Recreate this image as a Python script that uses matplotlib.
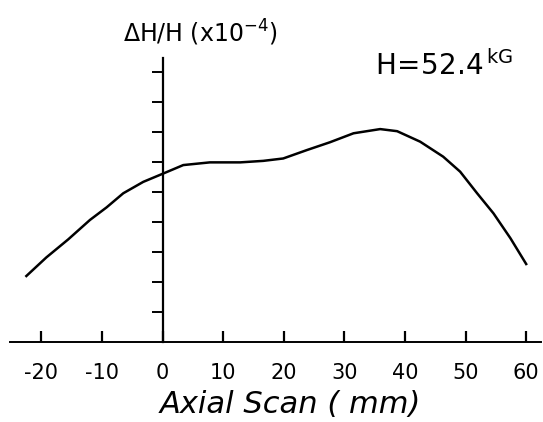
import matplotlib
matplotlib.use("Agg")
import matplotlib.pyplot as plt

# values
scan_mm = [-22.5, -19.2, -15.6, -12.0, -9.25, -6.5, -3.2, 0, 3.4, 7.8, 12.8, 16.6, 19.9,
           23.8, 27.6, 31.5, 35.9, 38.7, 42.5, 46.3, 49.1, 51.9, 54.6, 57.4, 60.0]
dh_h = [2.21, 2.83, 3.43, 4.08, 4.5, 4.97, 5.35, 5.62, 5.91, 6.0, 6.0, 6.05, 6.13,
        6.41, 6.67, 6.97, 7.11, 7.04, 6.69, 6.19, 5.69, 4.97, 4.3, 3.47, 2.61]
xticks = [-20, -10, 0, 10, 20, 30, 40, 50, 60]
yticks = [1, 2, 3, 4, 5, 6, 7, 8, 9]

fig = plt.figure(figsize=(5.43, 4.22), dpi=100)
ax = fig.add_axes([0.0184, 0.1889, 0.9774, 0.6729])

ax.plot(scan_mm, dh_h, color='black', lw=1.8, solid_joinstyle='round')

ax.set_xlim(-25.2, 62.4)
ax.set_ylim(0, 9.47)

for s in ['top', 'right']:
    ax.spines[s].set_visible(False)
ax.spines['left'].set_position(('data', 0))
ax.spines['left'].set_linewidth(1.6)
ax.spines['bottom'].set_linewidth(1.4)

ax.set_xticks(xticks)
ax.set_xticklabels([str(t) for t in xticks])
ax.set_yticks(yticks)
ax.set_yticklabels([])
ax.tick_params(axis='x', direction='in', length=8, width=1.6, labelsize=15, pad=15)
ax.tick_params(axis='y', direction='out', length=8, width=1.4)

fig.text(0.226, 0.922, r'$\mathregular{\Delta H/H\ (x10^{-4})}$', fontsize=17, ha='left', va='center')
fig.text(0.69, 0.822, r'$\mathregular{H\!=\!52.4^{\,kG}}$', fontsize=20, ha='left', va='baseline')
fig.text(0.534, 0.022, 'Axial Scan ( mm)', fontsize=22, style='italic', ha='center', va='baseline')

fig.savefig('out.png', dpi=100)
